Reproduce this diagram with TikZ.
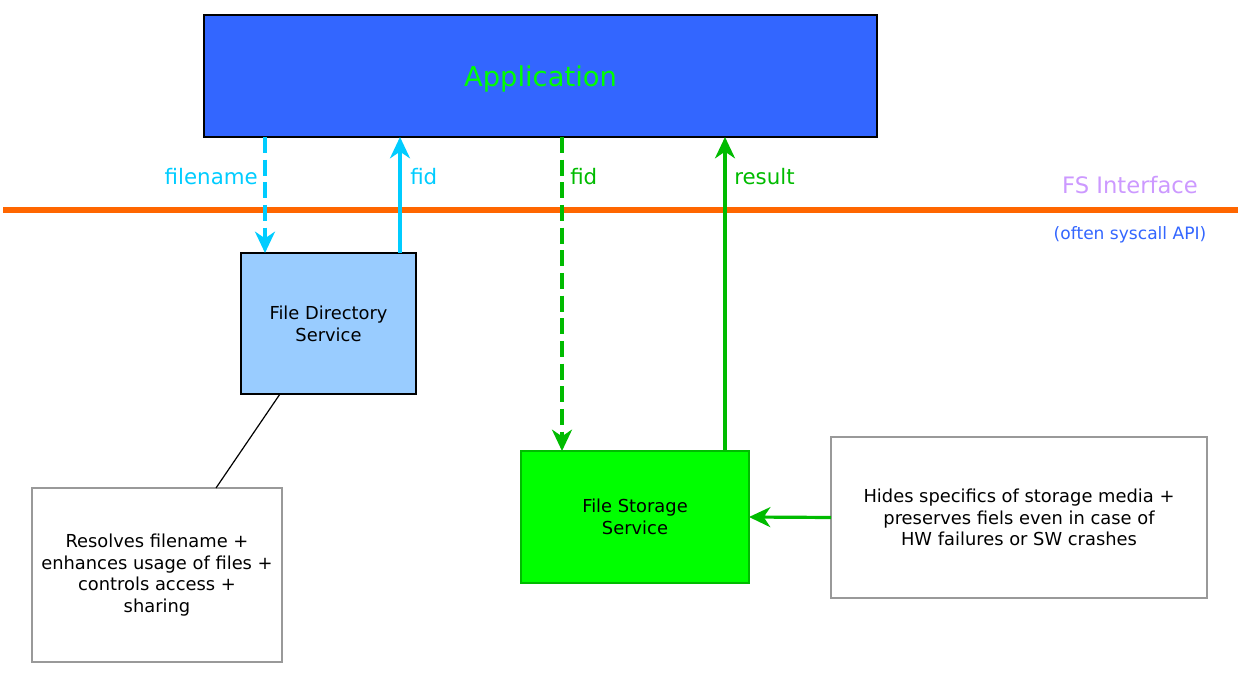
\documentclass[tikz,border=0pt]{standalone}
\usepackage{fontspec}
\setmainfont{DejaVu Sans}
\usetikzlibrary{arrows.meta}
\definecolor{appblue}{HTML}{3366FF}
\definecolor{appgreen}{HTML}{00FF00}
\definecolor{fscyan}{HTML}{00CCFF}
\definecolor{fsgreen}{HTML}{00BB00}
\definecolor{fdsblue}{HTML}{99CCFF}
\definecolor{fssgreen}{HTML}{00FF00}
\definecolor{ifaceorange}{HTML}{FF6600}
\definecolor{ifacelilac}{HTML}{CC99FF}
\definecolor{notegray}{HTML}{999999}
\tikzset{
  box/.style={draw, line width=1.9pt, inner sep=0pt, outer sep=0pt, align=center, font=\fontsize{13.4}{16.3}\selectfont},
  note/.style={box, draw=notegray, line width=1.5pt},
  conn/.style={line width=2.4pt, -{Stealth[length=16pt, width=15pt, inset=5pt]}},
  dashconn/.style={conn, dash pattern=on 12pt off 5pt},
  lbl/.style={font=\fontsize{16}{19}\selectfont, inner sep=0pt},
}
\begin{document}
\begin{tikzpicture}[x=0.75pt, y=-0.75pt]
\useasboundingbox (0,0) rectangle (1247,673);
% nodes
\node[box, fill=appblue, minimum width=504.75pt, minimum height=91.5pt, font=\fontsize{20.5}{24}\selectfont, text=appgreen, text height=20pt, text depth=4pt] (app) at (540.5,76) {Application};
\node[box, fill=fdsblue, minimum width=131.25pt, minimum height=105.75pt] (fds) at (328.5,323.5) {File Directory\\Service};
\node[note, minimum width=187.5pt, minimum height=130.5pt] (res) at (157,575) {Resolves filename +\\enhances usage of files +\\controls access +\\sharing};
\node[box, draw=fsgreen, fill=fssgreen, minimum width=171pt, minimum height=99pt] (fss) at (635,517) {File Storage\\Service};
\node[note, minimum width=282pt, minimum height=120.75pt] (hides) at (1019,517.5) {Hides specifics of storage media +\\preserves fiels even in case of\\HW failures or SW crashes};
% interface line
\coordinate (ifl) at (3,210);
\coordinate (ifr) at (1238,210);
\draw[ifaceorange, line width=4.7pt] (ifl) -- (ifr);
\node[font=\fontsize{17}{20}\selectfont, text=ifacelilac] (ifname) at (1130,185) {FS Interface};
\node[font=\fontsize{12.8}{15}\selectfont, text=appblue] (ifsub) at (1130,235) {(often syscall API)};
% x positions of connectors
\coordinate (xa) at (265,0);
\coordinate (xb) at (400,0);
\coordinate (xc) at (562,0);
\coordinate (xd) at (725,0);
\draw[dashconn, fscyan] (app.south -| xa) -- (fds.north -| xa);
\draw[conn, fscyan] (fds.north -| xb) -- (app.south -| xb);
\draw[dashconn, fsgreen] (app.south -| xc) -- (fss.north -| xc);
\draw[conn, fsgreen] (fss.north -| xd) -- (app.south -| xd);
\draw[conn, fsgreen] (hides.west) -- (fss.east);
% labels
\node[lbl, anchor=east, text=fscyan] (l1) at (258,177) {filename};
\node[lbl, anchor=west, text=fscyan] (l2) at (410,177) {fid};
\node[lbl, anchor=west, text=fsgreen] (l3) at (570,177) {fid};
\node[lbl, anchor=west, text=fsgreen] (l4) at (734,177) {result};
% annotation line
\coordinate (fa) at (280,0);
\coordinate (ra) at (216,0);
\draw[line width=0.9pt] (fds.south -| fa) -- (res.north -| ra);
\end{tikzpicture}
\end{document}
